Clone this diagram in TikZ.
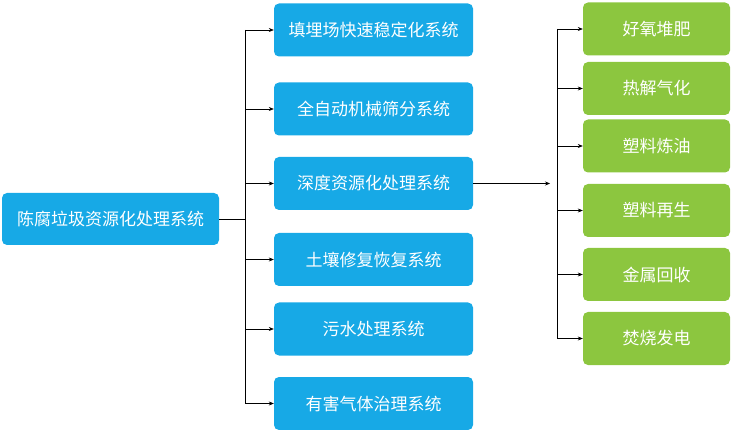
\documentclass[tikz,border=0pt]{standalone}
\usepackage{fontspec}
\setmainfont{Noto Sans CJK SC}[BoldFont={Noto Sans CJK SC Bold}]
\usetikzlibrary{arrows.meta}
\definecolor{bl}{HTML}{17A9E6}
\definecolor{gr}{HTML}{8CC63F}
\begin{document}
\begin{tikzpicture}[x=1pt,y=-1pt,
 box/.style={rounded corners=5pt,text=white,font=\fontsize{17}{19}\selectfont,inner sep=0},
 bb/.style={box,fill=bl},gb/.style={box,fill=gr},
 arr/.style={-{Stealth[length=5pt,width=4pt]},black,line width=0.6pt},
 ln/.style={black,line width=0.6pt}]
\useasboundingbox (0,0) rectangle (731,430);
\node[bb,minimum width=217,minimum height=52] (L) at (110.5,219) {陈腐垃圾资源化处理系统};
\foreach \n/\y/\t in {m1/30/填埋场快速稳定化系统,m2/109/全自动机械筛分系统,m3/183.5/深度资源化处理系统,m4/259.5/土壤修复恢复系统,m5/329/污水处理系统,m6/403.5/有害气体治理系统}
 \node[bb,minimum width=199,minimum height=53] (\n) at (373.5,\y) {\t};
\foreach \n/\y/\t in {g1/29/好氧堆肥,g2/88.5/热解气化,g3/146/塑料炼油,g4/210.5/塑料再生,g5/274.5/金属回收,g6/338.5/焚烧发电}
 \node[gb,minimum width=147,minimum height=53] (\n) at (656.5,\y) {\t};
\coordinate (t1) at (245,219);
\draw[ln] (L.east) -- (t1);
\draw[ln] (245,30) -- (245,403.5);
\foreach \n in {m1,m2,m3,m4,m5,m6} \draw[arr] (245,0 |- \n.west) -- (\n.west);
\coordinate (t2) at (550,183.5);
\draw[arr] (m3.east) -- (t2);
\draw[ln] (557,29) -- (557,338.5);
\foreach \n in {g1,g2,g3,g4,g5,g6} \draw[arr] (557,0 |- \n.west) -- (\n.west);
\end{tikzpicture}
\end{document}
